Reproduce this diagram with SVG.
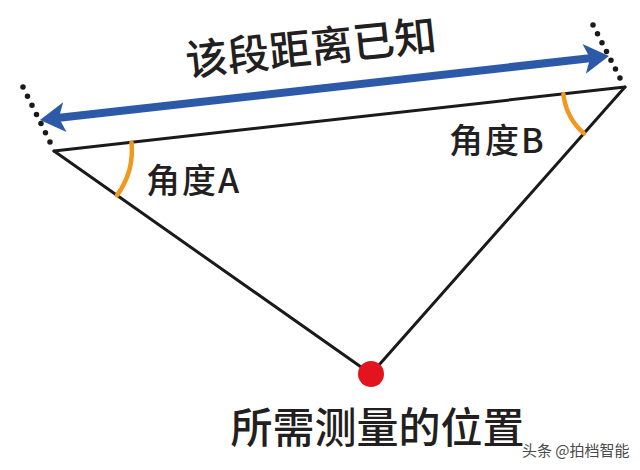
<svg xmlns="http://www.w3.org/2000/svg" width="640" height="470" viewBox="0 0 640 470">
  <style>
    .edge { stroke: #1a1a1a; stroke-width: 3; fill: none; stroke-linecap: round; }
    .dots { stroke: #1a1a1a; stroke-width: 5.5; fill: none; stroke-linecap: round; }
    .arc { stroke: #f0981f; stroke-width: 4.5; fill: none; stroke-linecap: round; }
    .lbl { font-family: "Noto Sans CJK SC", "Noto Sans", sans-serif; fill: #231f20; font-weight: 500; }
    .wm { font-family: "Noto Sans CJK SC", sans-serif; font-size: 15px; fill: #4a4a4a; stroke: #ffffff; stroke-width: 3; paint-order: stroke; }
  </style>
  <defs>
    <marker id="head" viewBox="-8 -18 30 36" refX="4" refY="0" markerWidth="30" markerHeight="36" markerUnits="userSpaceOnUse" orient="auto-start-reverse">
      <path d="M19,0 L-6,-15 L0,0 L-6,15 Z" fill="#2d5aa8"/>
    </marker>
  </defs>
  <rect width="640" height="470" fill="#ffffff"/>

  <g id="connectors">
    <line id="edge-top" class="edge" x1="54" y1="151" x2="625" y2="87"/>
    <line id="edge-left" class="edge" x1="54" y1="151" x2="371" y2="374"/>
    <line id="edge-right" class="edge" x1="625" y1="87" x2="371" y2="374"/>
    <line id="dots-left" class="dots" x1="23" y1="87" x2="50" y2="142" stroke-dasharray="0 10.2"/>
    <line id="dots-right" class="dots" x1="593" y1="25" x2="620" y2="78" stroke-dasharray="0 9.9"/>
    <line id="distance-arrow" x1="54.9" y1="118.3" x2="594.1" y2="57.7" stroke="#2d5aa8" stroke-width="8" marker-start="url(#head)" marker-end="url(#head)"/>
    <path id="arc-a" class="arc" d="M131.5,142.4 A77,77 0 0 1 117,195.3"/>
    <path id="arc-b" class="arc" d="M563.4,93.9 A62,62 0 0 0 583.9,133.4"/>
  </g>

  <g id="title">
    <text class="lbl" x="311" y="63" font-size="42" text-anchor="middle" transform="rotate(-6 311 48)">该段距离已知</text>
  </g>
  <g id="angle-a">
    <text class="lbl" x="146" y="193" font-size="34" letter-spacing="2">角度A</text>
  </g>
  <g id="angle-b">
    <text class="lbl" x="449" y="153" font-size="34" letter-spacing="2">角度B</text>
  </g>
  <g id="target">
    <circle cx="371" cy="374" r="13" fill="#e3141b"/>
    <text class="lbl" x="377.5" y="443" font-size="42" text-anchor="middle">所需测量的位置</text>
  </g>
  <g id="watermark">
    <text class="wm" x="522" y="456">头条 @拍档智能</text>
  </g>
</svg>
